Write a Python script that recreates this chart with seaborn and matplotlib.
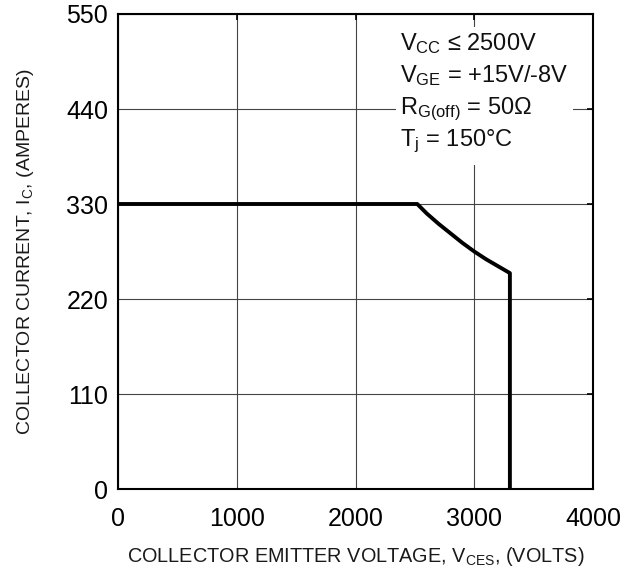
import matplotlib

matplotlib.use("Agg")

import matplotlib.pyplot as plt
import pandas as pd
import seaborn as sns
from matplotlib.patches import Rectangle

# safe operating area boundary
vce_volts = [0, 2520, 2600, 2700, 2800, 2900, 3000, 3100, 3200, 3300, 3300]
ic_amps = [330, 330, 319, 307, 296, 285, 275, 266, 258, 250, 0]

x_ticks = [0, 1000, 2000, 3000, 4000]
y_ticks = [0, 110, 220, 330, 440, 550]

conditions = [
    r"$V_{CC}$ ≤ 2500V",
    r"$V_{GE}$ = +15V/-8V",
    r"$R_{G(off)}$ = 50Ω",
    r"$T_{j}$ = 150°C",
]

sns.set_theme(style="white")
plt.rcParams["font.family"] = ["Liberation Sans", "DejaVu Sans"]
plt.rcParams["mathtext.default"] = "regular"

df = pd.DataFrame({"vce": vce_volts, "ic": ic_amps})

fig = plt.figure(figsize=(6.29, 5.76), dpi=100)
ax = fig.add_axes([0.1876, 0.151, 0.7552, 0.8247])

sns.lineplot(data=df, x="vce", y="ic", sort=False, estimator=None,
             color="black", linewidth=2.8, ax=ax, zorder=3)

ax.set_xlim(0, 4000)
ax.set_ylim(0, 550)
ax.set_xticks(x_ticks)
ax.set_yticks(y_ticks)
ax.grid(True, color="#444444", linewidth=0.8)
ax.set_axisbelow(True)
for s in ax.spines.values():
    s.set_color("black")
    s.set_linewidth(1.5)
ax.tick_params(direction="in", length=4, width=1.2, colors="black",
               labelsize=18, pad=7, top=True, right=True)
ax.tick_params(axis="x", pad=13)

ax.set_xlabel(r"COLLECTOR EMITTER VOLTAGE, $V_{CES}$, (VOLTS)", fontsize=14.3,
              color="#1a1a1a", labelpad=10)
ax.set_ylabel(r"COLLECTOR CURRENT, $I_{C}$, (AMPERES)", fontsize=14,
              color="#1a1a1a", labelpad=22)

# white panel behind the conditions text, breaking the grid lines
ax.add_patch(Rectangle((0.585, 0.682), 0.373, 0.291, transform=ax.transAxes,
                       facecolor="white", edgecolor="none", zorder=1))
for i, line in enumerate(conditions):
    ax.text(0.594, 0.925 - i * 0.068, line, transform=ax.transAxes,
            fontsize=17, color="#111111", ha="left", va="baseline", zorder=2)

fig.savefig("out.png", dpi=100)
